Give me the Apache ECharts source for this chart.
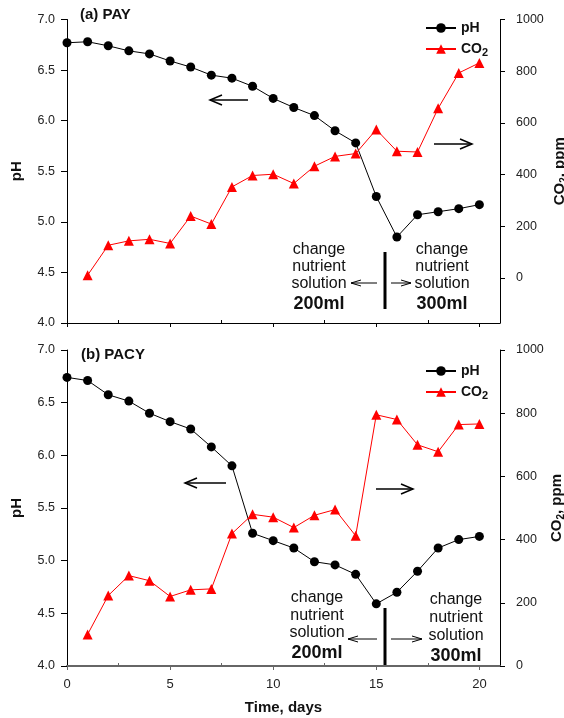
<!DOCTYPE html>
<html><head><meta charset="utf-8">
<script src="https://cdn.jsdelivr.net/npm/echarts@6/dist/echarts.min.js"></script>
<style>html,body{margin:0;padding:0;background:#fff}#c{width:564px;height:718px}</style>
</head><body><div id="c"></div>
<script>
var days = [0,1,2,3,4,5,6,7,8,9,10,11,12,13,14,15,16,17,18,19,20];
var co2Days = [1,2,3,4,5,6,7,8,9,10,11,12,13,14,15,16,17,18,19,20];
var phPAY = [6.77,6.78,6.74,6.69,6.66,6.59,6.53,6.45,6.42,6.34,6.22,6.13,6.05,5.90,5.78,5.25,4.85,5.07,5.10,5.13,5.17];
var co2PAY = [10,126,143,149,133,239,208,352,396,401,365,432,470,481,574,490,487,656,793,832];
var phPACY = [6.74,6.71,6.575,6.515,6.40,6.32,6.25,6.08,5.90,5.26,5.19,5.12,4.99,4.96,4.87,4.59,4.70,4.90,5.12,5.20,5.23];
var co2PACY = [100,223,286,270,220,241,244,419,480,471,438,477,495,412,795,780,700,678,764,766];
var xMajor = [0,5,10,15,20];
var xMinor = [2.5,7.5,12.5,17.5];
var phTicks = [4.0,4.5,5.0,5.5,6.0,6.5,7.0];
var co2Ticks = [0,200,400,600,800,1000];

function pairs(xs, ys){ return ys.map(function(v,i){ return [xs[i], v]; }); }

var FONT = '"Liberation Sans", Arial, sans-serif';
var chart = echarts.init(document.getElementById('c'), null, {renderer:'canvas'});

function xAxis(grid, showLabels, color, width){
  return {
    type:'value', gridIndex:grid, min:0, max:21, position:'bottom',
    axisLine:{show:true, onZero:false, lineStyle:{color:color, width:width}},
    axisTick:{show:true, length:4, inside:false, customValues:xMajor, lineStyle:{color:color, width:1}},
    axisLabel:{show:showLabels, customValues:xMajor, fontSize:13, color:'#222', fontFamily:FONT, margin:12},
    splitLine:{show:false},
    name: showLabels ? 'Time, days' : '',
    nameLocation:'middle', nameGap:34, nameMoveOverlap:false,
    nameTextStyle:{fontSize:15, fontWeight:'bold', color:'#111', fontFamily:FONT}
  };
}
function xMinorAxis(grid, color){
  return {
    type:'value', gridIndex:grid, min:0, max:21, position:'bottom', offset:0,
    axisLine:{show:false, onZero:false},
    axisTick:{show:true, length:3, inside:true, customValues:xMinor, lineStyle:{color:color, width:1}},
    axisLabel:{show:false}, splitLine:{show:false}
  };
}
function phAxis(grid){
  return {
    type:'value', gridIndex:grid, min:4, max:7, position:'left',
    axisLine:{show:true, onZero:false, lineStyle:{color:'#000'}},
    axisTick:{show:true, length:6, customValues:phTicks, lineStyle:{color:'#000'}},
    axisLabel:{customValues:phTicks, fontSize:12.5, color:'#222', fontFamily:FONT, margin:12,
      formatter:function(v){ return v.toFixed(1); }},
    splitLine:{show:false},
    name:'pH', nameLocation:'middle', nameGap:43, nameRotate:90, nameMoveOverlap:false,
    nameTextStyle:{fontSize:15, fontWeight:'bold', color:'#111', fontFamily:FONT}
  };
}
function co2Axis(grid, mn, gap){
  return {
    type:'value', gridIndex:grid, min:mn, max:1000, position:'right',
    axisLine:{show:true, onZero:false, lineStyle:{color:'#000'}},
    axisTick:{show:true, length:5, customValues:co2Ticks, lineStyle:{color:'#000'}},
    axisLabel:{customValues:co2Ticks, fontSize:12.5, color:'#222', fontFamily:FONT, margin:16, align:'left',
      formatter:function(v){ return String(v); }},
    splitLine:{show:false},
    name:'CO{s|2}, ppm', nameLocation:'middle', nameGap:gap, nameRotate:90, nameMoveOverlap:false,
    nameTextStyle:{fontSize:15, fontWeight:'bold', color:'#111', fontFamily:FONT,
      rich:{s:{fontSize:10, fontWeight:'bold', fontFamily:FONT, color:'#111', padding:[8,0,0,0]}}}
  };
}
function arrow(x1, y, x2, head, spread, w){
  var dir = x2 > x1 ? 1 : -1;
  return {type:'group', children:[
    {type:'line', shape:{x1:x1, y1:y, x2:x2, y2:y}, style:{stroke:'#000', lineWidth:w}},
    {type:'polyline', shape:{points:[[x2-dir*head, y-spread],[x2,y],[x2-dir*head, y+spread]]}, style:{stroke:'#000', lineWidth:w, fill:null}}
  ]};
}
function block(cx, y0, lh, big){
  var t = ['change','nutrient','solution'];
  var out = t.map(function(s,i){
    return {type:'text', x:cx, y:y0+i*lh, style:{text:s, fontSize:16, fontFamily:FONT, fill:'#111', align:'center', verticalAlign:'middle'}};
  });
  out.push({type:'text', x:cx, y:y0+2*lh+20, style:{text:big, fontSize:18, fontWeight:'bold', fontFamily:FONT, fill:'#111', align:'center', verticalAlign:'middle'}});
  return out;
}
function legend(top){
  return {
    data:['pH','CO2'], orient:'vertical', left:425, top:top, padding:0,
    itemWidth:30, itemHeight:12, itemGap:7,
    textStyle:{fontSize:14, fontWeight:'bold', color:'#111', fontFamily:FONT,
      rich:{s:{fontSize:11, fontWeight:'bold', fontFamily:FONT, color:'#111', padding:[7,0,0,0]}}},
    formatter:function(n){ return n==='CO2' ? 'CO{s|2}' : n; }
  };
}
var phStyle = {type:'line', symbol:'circle', symbolSize:9, itemStyle:{color:'#000'}, lineStyle:{color:'#000', width:1}, animation:false};
var coStyle = {type:'line', symbol:'triangle', symbolSize:10, itemStyle:{color:'#ff0000'}, lineStyle:{color:'#ff0000', width:1}, animation:false};

var graphics = [
  {type:'text', x:80, y:15, style:{text:'(a) PAY', fontSize:15, fontWeight:'bold', fontFamily:FONT, fill:'#111', verticalAlign:'middle'}},
  {type:'text', x:81, y:355, style:{text:'(b) PACY', fontSize:15, fontWeight:'bold', fontFamily:FONT, fill:'#111', verticalAlign:'middle'}},
  arrow(248,100,210,12,5,1.5),
  arrow(434,144,472,12,5,1.5),
  arrow(226,483,185,12,5,1.5),
  arrow(376,489,413,12,5,1.5),
  arrow(377,283,351,10,3,1),
  arrow(391,283,411,10,3,1),
  arrow(377,639,348,10,3,1),
  arrow(391,639,422,10,3,1),
  {type:'line', shape:{x1:385,y1:252,x2:385,y2:309}, style:{stroke:'#000', lineWidth:3}},
  {type:'line', shape:{x1:385,y1:608,x2:385,y2:667}, style:{stroke:'#000', lineWidth:3}}
].concat(block(319,250,17,'200ml'), block(442,250,17,'300ml'), block(317,598,17.5,'200ml'), block(456,600,18,'300ml'));

chart.setOption({
  backgroundColor:'#fff',
  animation:false,
  grid:[
    {left:67, right:64, top:19.5, height:303.5, containLabel:false, outerBoundsMode:'none'},
    {left:67, right:64, top:350, height:316, containLabel:false, outerBoundsMode:'none'}
  ],
  xAxis:[xAxis(0,false,'#000',1), xAxis(1,true,'#666',2), xMinorAxis(0,'#000'), xMinorAxis(1,'#666')],
  yAxis:[phAxis(0), co2Axis(0,-175,51), phAxis(1), co2Axis(1,0,48)],
  legend:[legend(21), legend(364)],
  series:[
    Object.assign({name:'pH', xAxisIndex:0, yAxisIndex:0, data:pairs(days, phPAY)}, phStyle),
    Object.assign({name:'CO2', xAxisIndex:0, yAxisIndex:1, data:pairs(co2Days, co2PAY)}, coStyle),
    Object.assign({name:'pH', xAxisIndex:1, yAxisIndex:2, data:pairs(days, phPACY)}, phStyle),
    Object.assign({name:'CO2', xAxisIndex:1, yAxisIndex:3, data:pairs(co2Days, co2PACY)}, coStyle)
  ],
  graphic:graphics
});
</script></body></html>
